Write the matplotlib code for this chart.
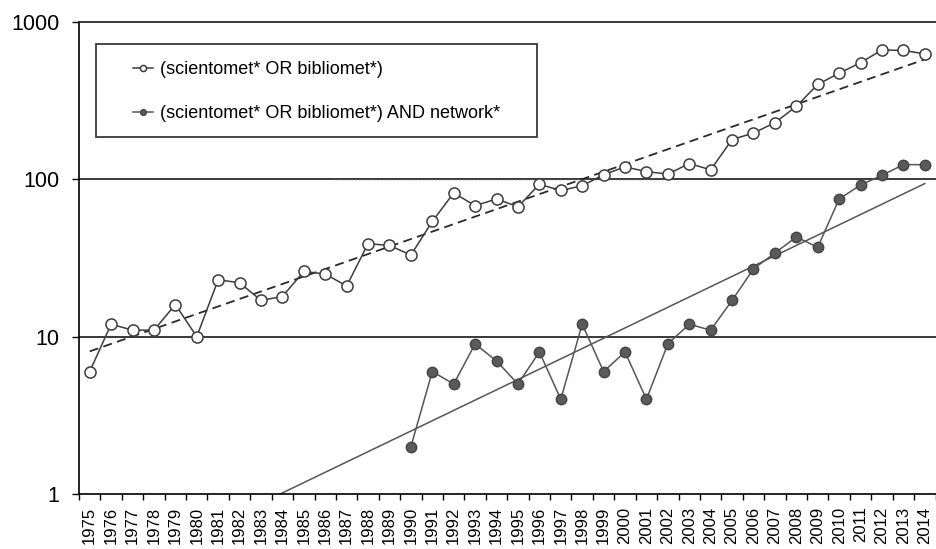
import numpy as np
import matplotlib
matplotlib.use("Agg")
import matplotlib.pyplot as plt
from matplotlib.patches import Rectangle

plt.rcParams['font.family'] = ['Liberation Sans', 'DejaVu Sans']

# Publication counts per year
years = list(range(1975, 2015))
biblio = [6, 12, 11, 11, 16, 10, 23, 22, 17, 18,
          26, 25, 21, 39, 38, 33, 54, 82, 68, 75,
          67, 93, 85, 91, 107, 120, 112, 108, 126, 115,
          179, 197, 229, 291, 401, 473, 551, 665, 659, 628]
network = [np.nan] * 15 + [2, 6, 5, 9, 7, 5, 8, 4, 12, 6,
                           8, 4, 9, 12, 11, 17, 27, 34, 43, 37,
                           75, 92, 106, 124, 124]
label_biblio = "(scientomet* OR bibliomet*)"
label_network = "(scientomet* OR bibliomet*) AND network*"

x = np.array(years, dtype=float)
y1 = np.array(biblio, dtype=float)
y2 = np.array(network, dtype=float)

W, H = 936, 549
fig = plt.figure(figsize=(W / 100, H / 100), dpi=100)
ax_l, ax_r, ax_t, ax_b = 79, 935.5, 22, 494
ax = fig.add_axes([ax_l / W, 1 - ax_b / H, (ax_r - ax_l) / W, (ax_b - ax_t) / H])

ax.set_yscale('log')
ax.set_ylim(1, 1000)
ax.set_xlim(1974.5, 2014.5)

line_col = '#3c3c3c'

# horizontal gridlines
for g in (10, 100):
    ax.axhline(g, color='#2a2a2a', lw=1.3, zorder=1)
ax.hlines(100, 1986.4, 2001.8, colors='#555555', lw=1.0, linestyles=(0, (1, 1.5)), zorder=1.5)

# exponential trend lines (least squares in log space)
m1 = ~np.isnan(y1)
c1 = np.polyfit(x[m1], np.log10(y1[m1]), 1)
ax.plot(x, 10 ** np.polyval(c1, x), color='#2a2a2a', lw=1.3, ls=(0, (5, 3)), zorder=2)
m2 = ~np.isnan(y2)
c2 = np.polyfit(x[m2], np.log10(y2[m2]), 1)
ax.plot(x, 10 ** np.polyval(c2, x), color='#555555', lw=1.1, zorder=2)

# data series
ax.plot(x, y1, color=line_col, lw=1.1, marker='o', ms=8, mfc='white',
        mec=line_col, mew=1.1, zorder=3, label=label_biblio)
ax.plot(x, y2, color='#555555', lw=1.1, marker='o', ms=7.5, mfc='#5a5a5a',
        mec='#444444', mew=1.0, zorder=3, label=label_network)

# axes styling
for s in ('right',):
    ax.spines[s].set_visible(False)
ax.spines['top'].set_color('#2a2a2a')
ax.spines['top'].set_linewidth(1.3)
ax.spines['left'].set_color('black')
ax.spines['left'].set_linewidth(1.2)
ax.spines['bottom'].set_color('black')
ax.spines['bottom'].set_linewidth(1.2)

ax.set_yticks([1, 10, 100, 1000])
ax.set_yticklabels(['1', '10', '100', '1000'])
ax.yaxis.set_minor_locator(matplotlib.ticker.NullLocator())
ax.tick_params(axis='y', which='major', direction='out', length=5, width=1,
               labelsize=15.5, pad=9, colors='black')

ax.set_xticks(np.arange(1974.5, 2015, 1.0))
ax.set_xticklabels([])
ax.set_xticks(x, minor=True)
ax.set_xticklabels([str(v) for v in years], minor=True, rotation=90)
ax.tick_params(axis='x', which='major', direction='out', length=4.5, width=1, colors='black')
ax.tick_params(axis='x', which='minor', length=0, labelsize=12, pad=9)

# legend with a plain rectangular frame
def px_to_axes(px, py):
    return ((px - ax_l) / (ax_r - ax_l), (ax_b - py) / (ax_b - ax_t))

bx0, by0 = px_to_axes(96, 137)
bx1, by1 = px_to_axes(537, 44)
ax.add_patch(Rectangle((bx0, by0), bx1 - bx0, by1 - by0, transform=ax.transAxes,
                       facecolor='white', edgecolor='#3a3a3a', lw=1.3, zorder=4))
leg = ax.legend(loc='center left', bbox_to_anchor=px_to_axes(133, 91.5),
                frameon=False, fontsize=13, markerscale=0.55, handlelength=1.1,
                handletextpad=0.4, labelspacing=1.5, borderpad=0, borderaxespad=0)
leg.set_zorder(5)

fig.savefig('out.png', dpi=100, facecolor='white')
